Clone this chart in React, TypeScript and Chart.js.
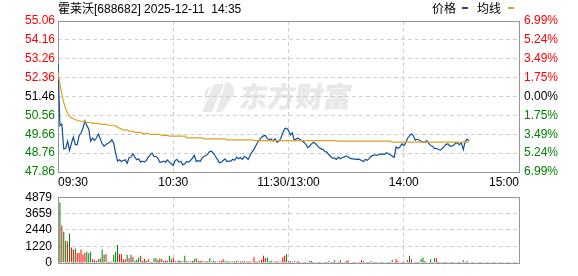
import React, { useEffect, useRef } from "react";
import { Chart, registerables } from "chart.js";
Chart.register(...registerables);

const PREV_CLOSE = 51.46;
const priceTicks = [47.86, 48.76, 49.66, 50.56, 51.46, 52.36, 53.26, 54.16, 55.06];
const pctLabels = ["6.99%", "5.24%", "3.49%", "1.75%", "0.00%", "1.75%", "3.49%", "5.24%", "6.99%"];
const volTicks = [0, 1220, 2440, 3659, 4879];
const timeTicks = [0, 60, 120, 180, 240];
const timeLabels = ["09:30", "10:30", "11:30/13:00", "14:00", "15:00"];

// minute index 0 = 09:30, 120 = 11:30/13:00, 240 = 15:00
const prices = [
  53.02, 50.07, 50.15, 48.96, 48.99, 49.33, 48.88, 49.23, 49.52, 49.17,
  49.17, 49.60, 49.72, 49.96, 50.30, 50.07, 49.91, 49.33, 49.48, 49.36,
  49.48, 49.67, 49.45, 49.20, 49.09, 49.17, 49.23, 49.28, 49.39, 49.23,
  48.76, 48.38, 48.44, 48.36, 48.41, 48.44, 48.28, 48.54, 48.57, 48.73,
  48.57, 48.44, 48.49, 48.33, 48.38, 48.33, 48.41, 48.57, 48.68, 48.76,
  48.60, 48.60, 48.52, 48.33, 48.33, 48.38, 48.33, 48.44, 48.33, 48.25,
  48.17, 48.41, 48.46, 48.33, 48.36, 48.20, 48.25, 48.36, 48.33, 48.41,
  48.52, 48.65, 48.36, 48.41, 48.36, 48.52, 48.60, 48.65, 48.71, 48.84,
  48.84, 48.74, 48.60, 48.46, 48.30, 48.33, 48.41, 48.49, 48.36, 48.38,
  48.38, 48.47, 48.42, 48.57, 48.49, 48.55, 48.46, 48.60, 48.55, 48.46,
  48.65, 48.81, 48.94, 49.11, 49.28, 49.39, 49.52, 49.58, 49.60, 49.44,
  49.41, 49.44, 49.33, 49.44, 49.28, 49.32, 49.47, 49.73, 49.92, 49.95,
  49.84, 49.63, 49.73, 49.36, 49.44, 49.47, 49.41, 49.35, 49.28, 49.18,
  49.02, 49.09, 49.20, 49.28, 49.22, 49.12, 49.02, 48.96, 48.93, 48.84,
  48.81, 48.68, 48.60, 48.52, 48.52, 48.46, 48.57, 48.49, 48.55, 48.57,
  48.63, 48.57, 48.52, 48.49, 48.49, 48.46, 48.47, 48.46, 48.41, 48.36,
  48.46, 48.42, 48.50, 48.62, 48.65, 48.68, 48.65, 48.70, 48.71, 48.71,
  48.70, 48.78, 48.73, 48.68, 48.62, 48.55, 49.05, 48.99, 49.05, 49.20,
  49.12, 49.25, 49.47, 49.58, 49.68, 49.60, 49.38, 49.43, 49.39, 49.33,
  49.28, 49.28, 49.36, 49.22, 49.12, 49.09, 48.98, 48.99, 48.93, 48.90,
  48.98, 49.07, 49.18, 49.20, 49.09, 49.09, 49.14, 49.24, 49.24, 49.16,
  49.25, 48.93, 49.32, 49.43, 49.33,
];

const avgPrices = [
  52.60, 52.04, 51.57, 51.17, 50.89, 50.67, 50.52, 50.44, 50.40, 50.36,
  50.33, 50.30, 50.28, 50.27, 50.25, 50.22, 50.22, 50.22, 50.18, 50.18,
  50.18, 50.18, 50.13, 50.13, 50.13, 50.13, 50.09, 50.09, 50.09, 50.09,
  50.05, 50.00, 49.95, 49.91, 49.86, 49.86, 49.86, 49.81, 49.81, 49.81,
  49.75, 49.75, 49.75, 49.75, 49.69, 49.69, 49.69, 49.69, 49.65, 49.65,
  49.65, 49.65, 49.65, 49.65, 49.61, 49.61, 49.61, 49.61, 49.57, 49.57,
  49.57, 49.57, 49.57, 49.57, 49.57, 49.57, 49.57, 49.49, 49.49, 49.49,
  49.49, 49.49, 49.49, 49.49, 49.49, 49.49, 49.44, 49.44, 49.44, 49.44,
  49.44, 49.44, 49.44, 49.44, 49.44, 49.44, 49.44, 49.44, 49.39, 49.39,
  49.39, 49.39, 49.39, 49.39, 49.39, 49.39, 49.39, 49.39, 49.39, 49.39,
  49.39, 49.39, 49.36, 49.36, 49.36, 49.36, 49.36, 49.36, 49.36, 49.36,
  49.36, 49.36, 49.36, 49.36, 49.36, 49.36, 49.36, 49.36, 49.36, 49.36,
  49.36, 49.36, 49.36, 49.36, 49.36, 49.36, 49.36, 49.36, 49.36, 49.36,
  49.36, 49.36, 49.36, 49.36, 49.36, 49.36, 49.36, 49.36, 49.36, 49.36,
  49.36, 49.36, 49.36, 49.36, 49.36, 49.33, 49.33, 49.33, 49.33, 49.33,
  49.33, 49.33, 49.33, 49.33, 49.33, 49.33, 49.33, 49.33, 49.33, 49.33,
  49.33, 49.33, 49.33, 49.33, 49.33, 49.33, 49.33, 49.33, 49.33, 49.33,
  49.33, 49.33, 49.33, 49.33, 49.28, 49.28, 49.28, 49.28, 49.28, 49.28,
  49.28, 49.28, 49.28, 49.28, 49.28, 49.28, 49.28, 49.28, 49.28, 49.28,
  49.28, 49.28, 49.28, 49.28, 49.28, 49.28, 49.28, 49.28, 49.28, 49.28,
  49.28, 49.28, 49.28, 49.28, 49.28, 49.28, 49.28, 49.28, 49.28, 49.28,
  49.28, 49.28, 49.28, 49.28, 49.28,
];

// volume bars for minutes 1..214 (bar k closes minute k)
const volumes = [
  4483, 2769, 2308, 1648, 1582, 2176, 1143, 989, 1055, 725,
  725, 989, 593, 725, 813, 703, 813, 264, 198, 154,
  264, 330, 989, 593, 659, 88, 66, 88, 593, 813,
  1319, 659, 659, 264, 264, 593, 330, 593, 440, 154,
  220, 396, 528, 154, 308, 154, 264, 66, 66, 330,
  330, 220, 330, 264, 154, 154, 154, 528, 264, 396,
  132, 88, 198, 132, 110, 528, 110, 88, 88, 132,
  264, 330, 154, 154, 154, 88, 110, 88, 330, 88,
  154, 88, 88, 88, 154, 264, 154, 88, 88, 88,
  88, 88, 154, 88, 88, 88, 132, 88, 88, 88,
  88, 418, 88, 88, 154, 220, 528, 330, 396, 88,
  154, 88, 88, 88, 88, 88, 396, 528, 660, 88,
  132, 66, 132, 66, 132, 66, 66, 66, 66, 66,
  132, 132, 66, 66, 66, 66, 66, 66, 66, 66,
  132, 66, 66, 198, 66, 66, 198, 66, 66, 132,
  198, 66, 66, 66, 66, 66, 66, 198, 132, 66,
  66, 66, 132, 66, 66, 66, 66, 66, 66, 66,
  66, 66, 66, 220, 66, 286, 132, 66, 66, 66,
  66, 198, 528, 264, 66, 66, 66, 66, 264, 396,
  132, 66, 66, 264, 66, 330, 330, 66, 66, 66,
  66, 66, 66, 66, 66, 66, 66, 66, 66, 66,
  198, 66, 132, 66,
];
// 1 = up (red), 0 = down (green)
const volUp = [
  0, 1, 0, 0, 1, 0, 1, 1, 0, 1,
  1, 1, 1, 1, 0, 0, 0, 1, 1, 0,
  1, 0, 0, 0, 1, 1, 1, 1, 0, 0,
  0, 1, 1, 1, 1, 0, 1, 0, 1, 0,
  0, 0, 1, 1, 0, 1, 1, 1, 1, 0,
  0, 1, 0, 1, 1, 1, 1, 0, 0, 1,
  1, 0, 0, 1, 0, 0, 1, 1, 0, 1,
  0, 0, 1, 1, 1, 0, 1, 0, 0, 1,
  0, 0, 0, 1, 1, 1, 0, 0, 0, 0,
  1, 0, 1, 1, 1, 1, 0, 1, 1, 1,
  1, 1, 1, 1, 1, 1, 1, 1, 0, 0,
  0, 0, 1, 1, 1, 1, 1, 1, 0, 1,
  1, 0, 0, 1, 1, 0, 1, 0, 0, 1,
  0, 1, 0, 0, 1, 0, 0, 1, 0, 0,
  0, 1, 0, 0, 1, 1, 0, 0, 1, 1,
  1, 0, 0, 1, 0, 1, 1, 1, 0, 1,
  0, 1, 1, 0, 0, 0, 0, 0, 1, 0,
  0, 1, 0, 0, 1, 1, 1, 0, 1, 1,
  1, 1, 0, 1, 0, 0, 0, 0, 0, 0,
  0, 1, 0, 0, 1, 0, 1, 1, 1, 1,
  1, 0, 1, 1, 1, 1, 1, 0, 0, 0,
  0, 1, 1, 0,
];

const RED = "#ff0000";
const GREEN = "#008000";
const BLACK = "#000000";
const BLUE = "#0e4f9f";
const ORANGE = "#dfa21e";
const GRID = "#d0d0d0";
const FRAME = "#959595";
const FONT = "'Liberation Sans', Arial, 'Noto Sans CJK SC', sans-serif";

const framePlugin = {
  id: "frame",
  beforeDatasetsDraw(chart: any) {
    const { ctx, chartArea } = chart;
    const l = Math.round(chartArea.left) + 0.5;
    const r = Math.round(chartArea.right) + 0.5;
    const t = Math.round(chartArea.top) + 0.5;
    const b = Math.round(chartArea.bottom) + 0.5;
    ctx.save();
    ctx.strokeStyle = FRAME;
    ctx.lineWidth = 1;
    ctx.setLineDash([]);
    ctx.strokeRect(l, t, r - l, b - t);
    ctx.restore();
  },
};

const priceColor = (v: number) =>
  v > PREV_CLOSE + 1e-6 ? RED : v < PREV_CLOSE - 1e-6 ? GREEN : BLACK;

export default function App() {
  const priceRef = useRef<HTMLCanvasElement>(null);
  const volRef = useRef<HTMLCanvasElement>(null);

  useEffect(() => {
    const xGridColor = (c: any) =>
      c.tick && (c.tick.value === 0 || c.tick.value === 240) ? "rgba(0,0,0,0)" : GRID;
    const priceChart = new Chart(priceRef.current as HTMLCanvasElement, {
      type: "line",
      data: {
        datasets: [
          {
            data: avgPrices.map((y, i) => ({ x: i, y })),
            borderColor: ORANGE,
            borderWidth: 1.2,
            pointRadius: 0,
            tension: 0,
            yAxisID: "y",
          },
          {
            data: prices.map((y, i) => ({ x: i, y })),
            borderColor: BLUE,
            borderWidth: 1.2,
            pointRadius: 0,
            tension: 0,
            yAxisID: "y",
          },
        ],
      },
      options: {
        animation: false,
        responsive: false,
        maintainAspectRatio: false,
        events: [],
        layout: { padding: { top: 21, left: 0, right: 0, bottom: 0 } },
        plugins: { legend: { display: false }, tooltip: { enabled: false }, title: { display: false } },
        scales: {
          x: {
            type: "linear",
            min: 0,
            max: 240,
            offset: false,
            afterBuildTicks: (s: any) => {
              s.ticks = timeTicks.map((v) => ({ value: v }));
            },
            afterFit: (s: any) => {
              s.height = 18;
            },
            grid: { drawTicks: false, color: xGridColor },
            border: { display: false, dash: [4, 3] },
            ticks: {
              align: "inner",
              padding: 3,
              maxRotation: 0,
              autoSkip: false,
              color: BLACK,
              font: { size: 12, family: FONT },
              callback: (v: any) => timeLabels[timeTicks.indexOf(v)],
            },
          },
          y: {
            position: "left",
            min: 47.86,
            max: 55.06,
            afterBuildTicks: (s: any) => {
              s.ticks = priceTicks.map((v) => ({ value: v }));
            },
            afterFit: (s: any) => {
              s.width = 58;
            },
            grid: { drawTicks: false, color: GRID },
            border: { display: false, dash: [4, 3] },
            ticks: {
              padding: 3,
              autoSkip: false,
              font: { size: 12, family: FONT },
              color: (c: any) => priceColor(c.tick.value),
              callback: (v: any) => Number(v).toFixed(2),
            },
          },
          y1: {
            position: "right",
            min: 47.86,
            max: 55.06,
            afterBuildTicks: (s: any) => {
              s.ticks = priceTicks.map((v) => ({ value: v }));
            },
            afterFit: (s: any) => {
              s.width = 59;
            },
            grid: { display: false, drawTicks: false },
            border: { display: false },
            ticks: {
              padding: 5,
              autoSkip: false,
              font: { size: 12, family: FONT },
              color: (c: any) => priceColor(c.tick.value),
              callback: (v: any) => pctLabels[priceTicks.indexOf(v)],
            },
          },
        },
      } as any,
      plugins: [framePlugin],
    });

    const volChart = new Chart(volRef.current as HTMLCanvasElement, {
      type: "bar",
      data: {
        datasets: [
          {
            data: volumes.map((y, i) => ({ x: i + 1, y })),
            backgroundColor: volUp.map((u) => (u ? RED : GREEN)),
            borderWidth: 0,
            barThickness: 1,
            inflateAmount: 0,
          },
        ],
      },
      options: {
        animation: false,
        responsive: false,
        maintainAspectRatio: false,
        events: [],
        layout: { padding: { top: 12, left: 0, right: 59, bottom: 6 } },
        plugins: { legend: { display: false }, tooltip: { enabled: false } },
        scales: {
          x: {
            type: "linear",
            min: 0,
            max: 240,
            offset: false,
            afterBuildTicks: (s: any) => {
              s.ticks = timeTicks.map((v) => ({ value: v }));
            },
            afterFit: (s: any) => {
              s.height = 0;
            },
            grid: { drawTicks: false, color: xGridColor, offset: false },
            border: { display: false, dash: [4, 3] },
            ticks: { display: false },
          },
          y: {
            position: "left",
            min: 0,
            max: 4879,
            afterBuildTicks: (s: any) => {
              s.ticks = volTicks.map((v) => ({ value: v }));
            },
            afterFit: (s: any) => {
              s.width = 58;
            },
            grid: { drawTicks: false, color: GRID },
            border: { display: false, dash: [4, 3] },
            ticks: {
              padding: 6,
              autoSkip: false,
              color: BLACK,
              font: { size: 12, family: FONT },
              callback: (v: any) => String(v),
            },
          },
        },
      } as any,
      plugins: [framePlugin],
    });

    return () => {
      priceChart.destroy();
      volChart.destroy();
    };
  }, []);

  const txt: React.CSSProperties = {
    position: "absolute",
    fontFamily: FONT,
    fontSize: 12,
    lineHeight: "14px",
    color: "#000",
    whiteSpace: "pre",
  };

  return (
    <div style={{ position: "absolute", left: 0, top: 0, width: 578, height: 276, background: "#fff", overflow: "hidden" }}>
      <svg width={40} height={36} style={{ position: "absolute", left: 200, top: 78 }}>
        <g fill="#e9e9e9">
          <path d="M14 6 L24 6 L12 34 L2 34 Z" />
          <path d="M26 4 Q36 6 34 16 L22 34 L16 34 Z" />
          <path d="M6 22 Q2 14 10 8 L6 20 Z" />
        </g>
      </svg>
      <div
        style={{
          position: "absolute",
          left: 240,
          top: 78,
          fontFamily: "'Noto Sans CJK SC', sans-serif",
          fontWeight: 900,
          fontSize: 28,
          lineHeight: "34px",
          color: "#e8e8e8",
          transform: "skewX(-8deg)",
          whiteSpace: "pre",
        }}
      >
        东方财富
      </div>
      <canvas ref={priceRef} width={578} height={190} style={{ position: "absolute", left: 0, top: 0, width: 578, height: 190 }} />
      <canvas ref={volRef} width={578} height={92} style={{ position: "absolute", left: 0, top: 184, width: 578, height: 92 }} />
      <div style={{ ...txt, left: 58, top: 2 }}>{"霍莱沃[688682] 2025-12-11  14:35"}</div>
      <div style={{ ...txt, left: 432, top: 2 }}>价格</div>
      <div style={{ position: "absolute", left: 462, top: 7, width: 6, height: 2, background: "#1050a0" }} />
      <div style={{ ...txt, left: 477, top: 2 }}>均线</div>
      <div style={{ position: "absolute", left: 508, top: 7, width: 6, height: 2, background: "#e0a020" }} />
    </div>
  );
}
